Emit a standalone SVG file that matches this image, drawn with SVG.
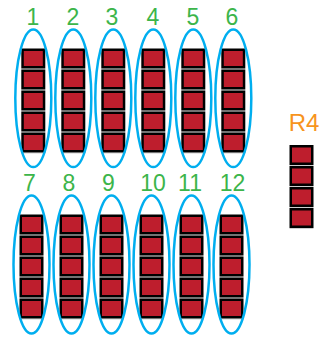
<svg xmlns="http://www.w3.org/2000/svg" xmlns:xlink="http://www.w3.org/1999/xlink" width="322" height="337" viewBox="0 0 322 337">
  <style>
    .num { font-family: "Liberation Sans", Arial, sans-serif; font-size: 23px; fill: #3cb54a; text-anchor: middle; }
    .rlab { font-family: "Liberation Sans", Arial, sans-serif; font-size: 24px; fill: #f7941d; text-anchor: middle; }
    .ring { fill: none; stroke: #00aeef; stroke-width: 2.5; }
  </style>
  <defs>
    <!-- one slot: black-framed red square with a thin light separator below -->
    <g id="cell">
      <rect x="0" y="20" width="24" height="1" fill="#cfcfcf"/>
      <rect x="1.25" y="1.25" width="21.5" height="17.5" fill="#be1e2d" stroke="#000" stroke-width="2.5"/>
    </g>
    <!-- stack of five slots -->
    <g id="col5">
      <use xlink:href="#cell" y="0"/>
      <use xlink:href="#cell" y="21"/>
      <use xlink:href="#cell" y="42"/>
      <use xlink:href="#cell" y="63"/>
      <use xlink:href="#cell" y="84"/>
    </g>
  </defs>

  <!-- upper row -->
  <g id="g1"><text class="num" x="33" y="25">1</text><use xlink:href="#col5" x="21.3" y="48.5"/><ellipse class="ring" cx="33.3" cy="98.3" rx="18" ry="68.8"/></g>
  <g id="g2"><text class="num" x="73" y="25">2</text><use xlink:href="#col5" x="61.3" y="48.5"/><ellipse class="ring" cx="73.3" cy="98.3" rx="18" ry="68.8"/></g>
  <g id="g3"><text class="num" x="112" y="25">3</text><use xlink:href="#col5" x="101.3" y="48.5"/><ellipse class="ring" cx="113.3" cy="98.3" rx="18" ry="68.8"/></g>
  <g id="g4"><text class="num" x="153" y="25">4</text><use xlink:href="#col5" x="141.3" y="48.5"/><ellipse class="ring" cx="153.3" cy="98.3" rx="18" ry="68.8"/></g>
  <g id="g5"><text class="num" x="193" y="25">5</text><use xlink:href="#col5" x="181.3" y="48.5"/><ellipse class="ring" cx="193.3" cy="98.3" rx="18" ry="68.8"/></g>
  <g id="g6"><text class="num" x="232" y="25">6</text><use xlink:href="#col5" x="221.3" y="48.5"/><ellipse class="ring" cx="233.3" cy="98.3" rx="18" ry="68.8"/></g>

  <!-- lower row -->
  <g id="g7"><text class="num" x="29.5" y="191">7</text><use xlink:href="#col5" x="19.5" y="214.5"/><ellipse class="ring" cx="31.5" cy="264.6" rx="18" ry="69"/></g>
  <g id="g8"><text class="num" x="69" y="191">8</text><use xlink:href="#col5" x="59.5" y="214.5"/><ellipse class="ring" cx="71.5" cy="264.6" rx="18" ry="69"/></g>
  <g id="g9"><text class="num" x="108.5" y="191">9</text><use xlink:href="#col5" x="99.5" y="214.5"/><ellipse class="ring" cx="111.5" cy="264.6" rx="18" ry="69"/></g>
  <g id="g10"><text class="num" x="153" y="191">10</text><use xlink:href="#col5" x="139.5" y="214.5"/><ellipse class="ring" cx="151.5" cy="264.6" rx="18" ry="69"/></g>
  <g id="g11"><text class="num" x="190" y="191">11</text><use xlink:href="#col5" x="179.5" y="214.5"/><ellipse class="ring" cx="191.5" cy="264.6" rx="18" ry="69"/></g>
  <g id="g12"><text class="num" x="232.5" y="191">12</text><use xlink:href="#col5" x="219.5" y="214.5"/><ellipse class="ring" cx="231.5" cy="264.6" rx="18" ry="69"/></g>

  <!-- R4 stack of four -->
  <g id="r4">
    <text class="rlab" x="304" y="131">R4</text>
    <use xlink:href="#cell" x="289.5" y="145"/>
    <use xlink:href="#cell" x="289.5" y="166"/>
    <use xlink:href="#cell" x="289.5" y="187"/>
    <use xlink:href="#cell" x="289.5" y="208"/>
  </g>
</svg>
